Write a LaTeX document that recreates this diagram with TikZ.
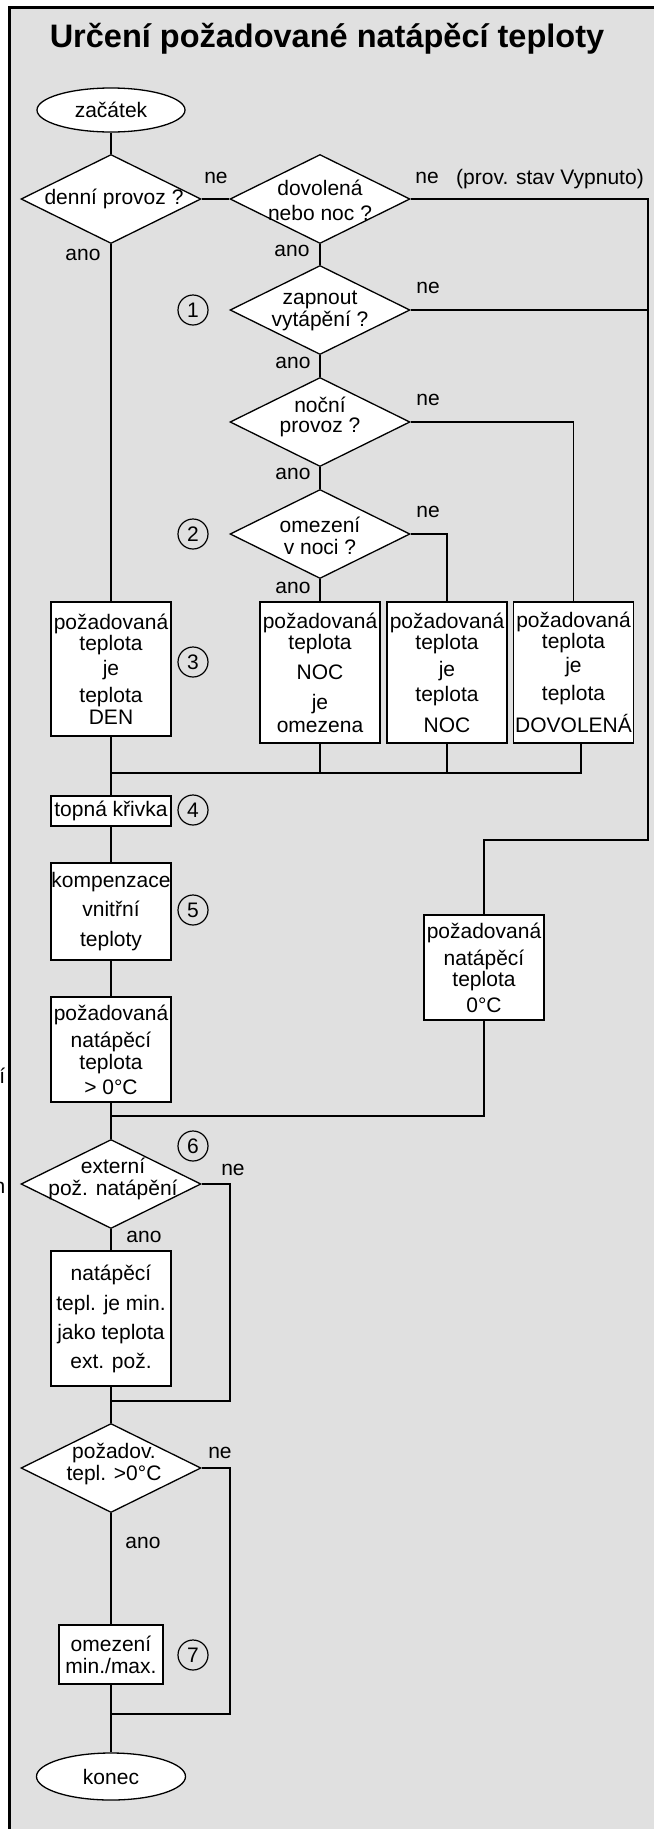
\documentclass[tikz,border=0pt]{standalone}
\usepackage{fontspec}
\setmainfont{Liberation Sans}
\usetikzlibrary{shapes.geometric,calc}
\definecolor{bg}{RGB}{224,224,224}
\begin{document}
\begin{tikzpicture}[x=1pt,y=-1pt,
  every node/.style={font=\fontsize{21}{22}\selectfont},
  conn/.style={draw,line width=1.3pt},
  procbox/.style={draw,line width=1.3pt,fill=white,inner sep=0pt,minimum width=120pt,align=center},
  decis/.style={diamond,draw,line width=1.3pt,fill=white,inner sep=0pt,minimum width=180pt,minimum height=89pt},
  dtext/.style={align=center,inner sep=0pt},
  term/.style={ellipse,draw,line width=1.3pt,fill=white,inner sep=0pt},
  num/.style={circle,draw,line width=1.2pt,minimum size=30pt,inner sep=0pt},
  lbl/.style={inner sep=0pt}]
\useasboundingbox (0,0) rectangle (654,1829);
\fill[bg] (9.5,7.5) rectangle (654,1829);
\draw[line width=3pt] (9.5,1829) -- (9.5,7.5) -- (654,7.5);
\node[anchor=base east,inner sep=0pt] (stray1) at (5.5,1083) {í};
\node[anchor=base east,inner sep=0pt] (stray2) at (5.5,1193) {n};

\node[anchor=base,inner sep=0pt,font=\fontsize{32.5}{36}\selectfont\bfseries] (title) at (327,47) {Určení požadované natápěcí teploty};

% nodes
\node[term,minimum width=148pt,minimum height=44pt] (start) at (111,110) {začátek};
\node[decis] (d1) at (111,199) {};
\node[dtext] (t1) at (114,199) {denní provoz ?};
\node[decis] (d2) at (320,199) {};
\node[dtext] (t2) at (320,200) {dovolená\\[3pt]nebo noc ?};
\node[decis] (d3) at (320,310) {};
\node[dtext] (t3) at (320,311) {zapnout\\vytápění ?};
\node[decis] (d4) at (320,422) {};
\node[dtext] (t4) at (320,417) {noční\\[-2pt]provoz ?};
\node[decis] (d5) at (320,534) {};
\node[dtext] (t5) at (320,536) {omezení\\v noci ?};

\node[procbox,minimum height=134pt] (bDEN) at (111,669) {požadovaná\\[-1pt]teplota\\[3pt]je\\[5pt]teplota\\DEN};
\node[procbox,minimum height=141pt] (bNOM) at (320,672.5) {požadovaná\\[-1pt]teplota\\[8pt]NOC\\[8pt]je\\[1pt]omezena};
\node[procbox,minimum height=141pt] (bNOC) at (447,672.5) {požadovaná\\[-1pt]teplota\\[5pt]je\\[3pt]teplota\\[9pt]NOC};
\node[procbox,minimum height=141pt] (bDOV) at (573.5,672.5) {požadovaná\\[-1pt]teplota\\[2pt]je\\[6pt]teplota\\[9pt]DOVOLENÁ};

\node[procbox,minimum height=30pt] (bTop) at (111,811) {topná křivka};
\node[procbox,minimum height=97pt] (bKomp) at (111,911.5) {kompenzace\\[7pt]vnitřní\\[8pt]teploty};
\node[procbox,minimum height=105pt] (bPoz) at (111,1049.5) {požadovaná\\[5pt]natápěcí\\teplota\\[3pt]> 0°C};
\node[procbox,minimum height=105pt] (b0C) at (484,967.5) {požadovaná\\[5pt]natápěcí\\[-1pt]teplota\\[4pt]0°C};

\node[decis] (d6) at (111,1184) {};
\node[dtext] (t6) at (113,1179) {externí\\pož. natápění};
\node[procbox,minimum height=135pt] (bExt) at (111,1318.5) {natápěcí\\[8pt]tepl. je min.\\[7pt]jako teplota\\[7pt]ext. pož.};
\node[decis] (d7) at (111,1468) {};
\node[dtext] (t7) at (114,1464) {požadov.\\tepl. >0°C};
\node[procbox,minimum width=104pt,minimum height=59pt] (bOm) at (111,1654.5) {omezení\\min./max.};
\node[term,minimum width=149pt,minimum height=47pt] (end) at (111,1776.5) {konec};

% numbers
\node[num] (n1) at (193,310) {1};
\node[num] (n2) at (193,534) {2};
\node[num] (n3) at (193,662) {3};
\node[num] (n4) at (193,810) {4};
\node[num] (n5) at (193,910) {5};
\node[num] (n6) at (193,1146) {6};
\node[num] (n7) at (193,1655) {7};

% connectors
\draw[conn] (start.south) -- (d1.north);
\draw[conn] (d1.east) -- (d2.west);
\draw[conn] (d1.south) -- (bDEN.north);
\draw[conn] (d2.south) -- (d3.north);
\draw[conn] (d3.south) -- (d4.north);
\draw[conn] (d4.south) -- (d5.north);
\draw[conn] (d5.south) -- (bNOM.north);
\draw[conn] (d5.east) -| (bNOC.north);
\draw[conn] (d4.east) -| (bDOV.north);
\coordinate (rA) at (648,199);
\coordinate (rB) at (648,840);
\draw[conn] (d2.east) -- (rA) -- (rB) -| (b0C.north);
\draw[conn] (d3.east) -- (d3.east -| rA);
\coordinate (m1) at (111,773);
\coordinate (m4) at (581,773);
\draw[conn] (bDEN.south) -- (bTop.north);
\draw[conn] (bNOM.south) -- (bNOM.south |- m1);
\draw[conn] (bNOC.south) -- (bNOC.south |- m1);
\draw[conn] (bDOV.south -| m4) -- (m4) -- (m1);
\draw[conn] (bTop.south) -- (bKomp.north);
\draw[conn] (bKomp.south) -- (bPoz.north);
\draw[conn] (bPoz.south) -- (d6.north);
\coordinate (m2) at (111,1116);
\draw[conn] (b0C.south) |- (m2);
\coordinate (e6) at (230,1401);
\draw[conn] (d6.east) -| (e6) -- (e6 -| d6);
\draw[conn] (d6.south) -- (bExt.north);
\draw[conn] (bExt.south) -- (d7.north);
\coordinate (e7) at (230,1714);
\draw[conn] (d7.east) -| (e7) -- (e7 -| d7);
\draw[conn] (d7.south) -- (bOm.north);
\draw[conn] (bOm.south) -- (end.north);

% labels
\node[lbl] (l1) at (216,178) {ne};
\node[lbl] (l2) at (427,178) {ne};
\node[lbl] (l2b) at (550,179) {(prov. stav Vypnuto)};
\node[lbl] (l3) at (83,255) {ano};
\node[lbl] (l4) at (292,251) {ano};
\node[lbl] (l5) at (428,288) {ne};
\node[lbl] (l6) at (293,363) {ano};
\node[lbl] (l7) at (428,400) {ne};
\node[lbl] (l8) at (293,474) {ano};
\node[lbl] (l9) at (428,512) {ne};
\node[lbl] (l10) at (293,588) {ano};
\node[lbl] (l11) at (233,1170) {ne};
\node[lbl] (l12) at (144,1237) {ano};
\node[lbl] (l13) at (220,1453) {ne};
\node[lbl] (l14) at (143,1543) {ano};
\end{tikzpicture}
\end{document}
